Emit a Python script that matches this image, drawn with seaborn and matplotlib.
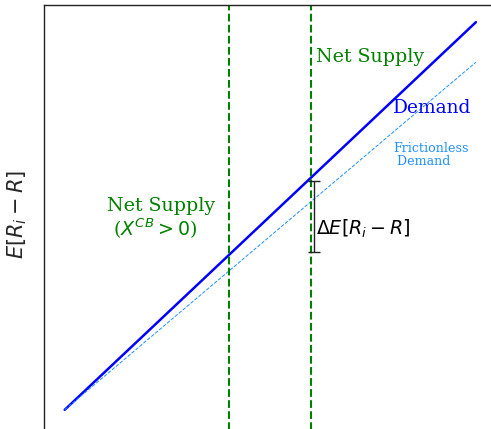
import matplotlib
matplotlib.use("Agg")
import matplotlib.pyplot as plt
import numpy as np
import pandas as pd
import seaborn as sns

# Line end points (x, expected excess return)
demand_x = [0.45, 9.39]
demand_y = [0.80, 9.61]
frictionless_x = [0.45, 9.39]
frictionless_y = [0.80, 8.70]

# Net supply positions
supply_x = [4.02, 5.80]

# Premium bracket
bracket_x = 5.87
bracket_lo = 4.39
bracket_hi = 6.00

sns.set_style("white")
plt.rcParams["mathtext.fontset"] = "dejavusans"

fig = plt.figure(figsize=(4.91, 4.29), dpi=100)
ax = fig.add_axes([44 / 491, 1 - 445 / 429, 460 / 491, 440 / 429])

df_d = pd.DataFrame({"x": demand_x, "y": demand_y})
df_f = pd.DataFrame({"x": frictionless_x, "y": frictionless_y})

sns.lineplot(data=df_d, x="x", y="y", ax=ax, color="blue", lw=1.8)
sns.lineplot(data=df_f, x="x", y="y", ax=ax, color="dodgerblue",
             lw=0.7, linestyle="--")

for sx in supply_x:
    ax.axvline(sx, color="green", ls="--", lw=1.5)

mid = (bracket_lo + bracket_hi) / 2
ax.errorbar([bracket_x], [mid], yerr=[[mid - bracket_lo], [bracket_hi - mid]],
            fmt="none", ecolor="#222222", elinewidth=1.0, capsize=4, capthick=1.0)

serif = "DejaVu Serif"
ax.text(5.91, 8.82, "Net Supply", color="green", fontsize=13.7,
        family=serif, va="center", ha="left")
ax.text(7.59, 7.66, "Demand", color="blue", fontsize=13.4,
        family=serif, va="center", ha="left")
ax.text(7.59, 6.59, "Frictionless\n Demand", color="dodgerblue", fontsize=9.1,
        family=serif, va="center", ha="left", linespacing=1.0)
ax.text(1.37, 5.14, "Net Supply\n ($X^{CB} > 0$)", color="green", fontsize=13.7,
        family=serif, va="center", ha="left", linespacing=1.1)
ax.text(5.91, 4.91, r"$\Delta E[R_i - R]$", color="black", fontsize=13.7,
        va="center", ha="left")

ax.set_xlim(0, 10)
ax.set_ylim(0, 10)
ax.set_xticks([])
ax.set_yticks([])
ax.set_xlabel("")
ax.set_ylabel(r"$E[R_i - R]$", fontsize=15)
ax.yaxis.set_label_coords(-0.033, 0.523)
for s in ax.spines.values():
    s.set_color("#222222")
    s.set_linewidth(1.0)

fig.savefig("out.png", dpi=100)
